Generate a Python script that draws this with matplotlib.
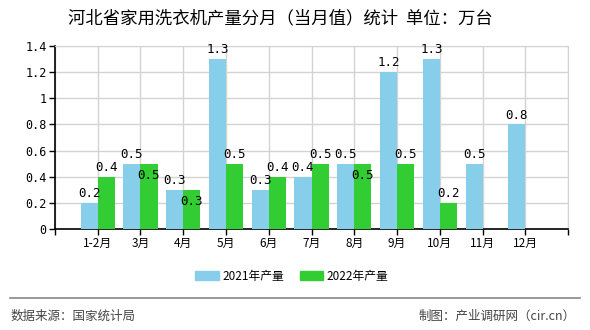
import numpy as np
import matplotlib.pyplot as plt
from matplotlib.patches import Patch

plt.rcParams['font.family'] = ['Noto Sans CJK SC', 'DejaVu Sans']

# ---------- DATA ----------
months = ['1-2月', '3月', '4月', '5月', '6月', '7月', '8月', '9月', '10月', '11月', '12月']
y2021 = [0.2, 0.5, 0.3, 1.3, 0.3, 0.4, 0.5, 1.2, 1.3, 0.5, 0.8]
y2022 = [0.4, 0.5, 0.3, 0.5, 0.4, 0.5, 0.5, 0.5, 0.2, None, None]

c2021 = '#87ceeb'
c2022 = '#32cd32'
num_font = 'DejaVu Sans Mono'

# ---------- FIGURE ----------
fig = plt.figure(figsize=(5.9, 3.3), dpi=100)
ax = fig.add_axes([0.093, 0.306, 0.870, 0.555])

x = np.arange(len(months))
w = 0.4
ax.bar(x - w / 2, y2021, width=w, color=c2021, zorder=3)
x22 = [i for i, v in enumerate(y2022) if v is not None]
v22 = [y2022[i] for i in x22]
ax.bar(np.array(x22) + w / 2, v22, width=w, color=c2022, zorder=3)

# value labels
for i, v in enumerate(y2021):
    ax.annotate(f'{v:g}', (i - w / 2, v), xytext=(0, 2), textcoords='offset points',
                ha='center', va='bottom', fontsize=9, family=num_font, zorder=4)
for i, v in zip(x22, v22):
    if v == y2021[i]:
        # same height as the 2021 label -> pushed inside the bar
        ax.annotate(f'{v:g}', (i + w / 2, v), xytext=(0, -13), textcoords='offset points',
                    ha='center', va='bottom', fontsize=9, family=num_font, zorder=4)
    else:
        ax.annotate(f'{v:g}', (i + w / 2, v), xytext=(0, 2), textcoords='offset points',
                    ha='center', va='bottom', fontsize=9, family=num_font, zorder=4)

# ---------- AXES ----------
ax.set_xlim(-1, 11)
ax.set_ylim(0, 1.4)
ax.set_yticks(np.arange(0, 1.41, 0.2))
ax.set_yticklabels(['0', '0.2', '0.4', '0.6', '0.8', '1', '1.2', '1.4'],
                   family=num_font, fontsize=8.5)
ax.set_xticks(np.arange(-1, 12))
ax.set_xticklabels([''] + months + [''], fontsize=8.5)
ax.tick_params(axis='both', length=4, width=1, color='black', pad=2)
ax.grid(True, color='#d3d3d3', linewidth=1, zorder=0)

for s in ['top', 'right']:
    ax.spines[s].set_color('#d3d3d3')
for s in ['left', 'bottom']:
    ax.spines[s].set_color('black')
    ax.spines[s].set_linewidth(1.2)

# ---------- TEXT ----------
fig.text(0.475, 0.945, '河北省家用洗衣机产量分月（当月值）统计  单位：万台',
         ha='center', va='center', fontsize=12.5)

handles = [Patch(color=c2021, label='2021年产量'), Patch(color=c2022, label='2022年产量')]
fig.legend(handles=handles, loc='center', bbox_to_anchor=(0.495, 0.162), ncol=2,
           frameon=False, fontsize=8.5, handlelength=2.0, handleheight=0.8,
           columnspacing=1.3, handletextpad=0.3)

fig.add_artist(plt.Line2D([0.017, 0.983], [0.097, 0.097], color='#888888', linewidth=1.2))
fig.text(0.017, 0.042, '数据来源：国家统计局', ha='left', va='center', fontsize=9, color='#444444')
fig.text(0.975, 0.042, '制图：产业调研网（cir.cn）', ha='right', va='center', fontsize=9, color='#444444')

plt.savefig('out.png', dpi=100)
